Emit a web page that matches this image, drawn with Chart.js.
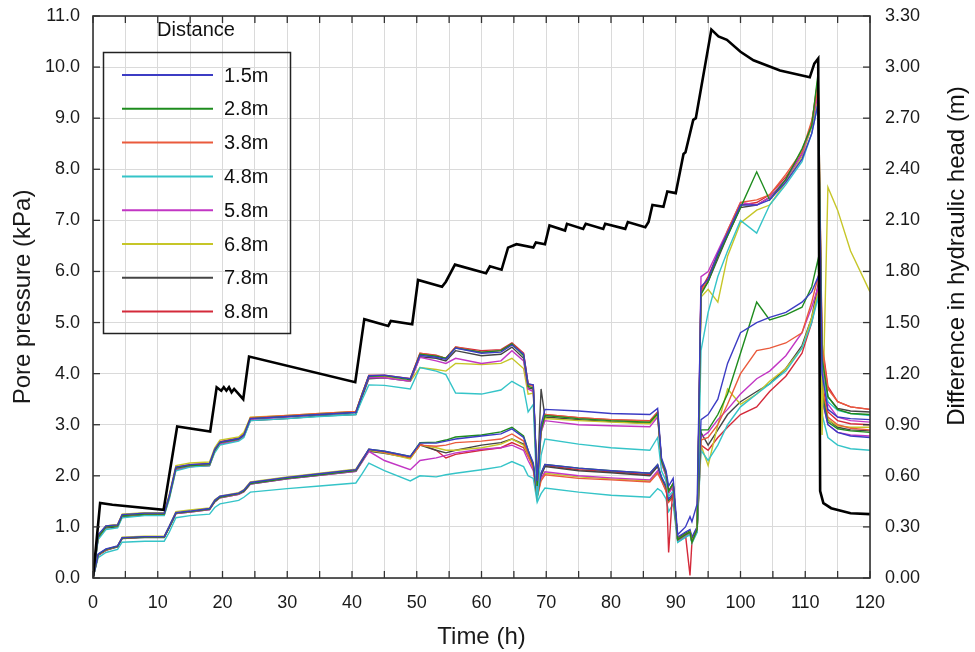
<!DOCTYPE html>
<html>
<head>
<meta charset="utf-8">
<script src="https://cdn.jsdelivr.net/npm/chart.js@4.4.1/dist/chart.umd.min.js"></script>
<style>
  body { margin: 0; background: #fff; }
  #wrap { width: 975px; height: 652px; position: relative; }
</style>
</head>
<body>
<div id="wrap"><canvas id="grafico"></canvas></div>
<script>
// Tiempo (h) comun para las curvas de presion de poros
const tiempo = [0, 0.8, 2, 3.8, 4.5, 8, 11, 11.8, 12.8, 15,
  18, 18.8, 19.6, 22.5, 23.3, 24.3, 30, 35, 40.6, 41.6,
  42.6, 45, 49, 50.5, 53, 54.5, 56, 60, 63, 64.7,
  66.5, 67.2, 68, 68.6, 69.2, 69.8, 75, 80, 86, 87.2,
  87.8, 88.5, 88.9, 89.6, 90.3, 91.5, 92.2, 92.5, 93.3, 93.9,
  95, 96.5, 98, 100, 102.5, 104.5, 107, 109.5, 111, 112,
  112.6, 113.5, 115, 117, 120];

const distancias = ['1.5m', '2.8m', '3.8m', '4.8m', '5.8m', '6.8m', '7.8m', '8.8m'];

// Grupo superior (kPa)
const sup15 = [0, 0.85, 1.02, 1.04, 1.24, 1.27, 1.27, 1.62, 2.17, 2.22,
  2.24, 2.52, 2.66, 2.73, 2.8, 3.12, 3.16, 3.2, 3.24, 3.6,
  3.96, 3.97, 3.9, 4.36, 4.32, 4.28, 4.5, 4.4, 4.42, 4.56,
  4.38, 3.8, 3.78, 1.9, 3.0, 3.3, 3.27, 3.22, 3.2, 3.32,
  2.35, 2.1, 1.8, 1.95, 0.85, 1.0, 1.2, 1.1, 1.45, 5.7,
  5.85, 6.35, 6.75, 7.3, 7.3, 7.4, 7.75, 8.2, 8.7, 9.3,
  4.0, 3.3, 3.15, 3.12, 3.1];
const sup28 = [0, 0.8, 1.0, 1.02, 1.22, 1.25, 1.25, 1.6, 2.15, 2.2,
  2.22, 2.5, 2.65, 2.72, 2.8, 3.12, 3.16, 3.2, 3.24, 3.6,
  3.95, 3.96, 3.88, 4.38, 4.34, 4.3, 4.5, 4.42, 4.45, 4.58,
  4.35, 3.75, 3.72, 1.8, 2.9, 3.18, 3.12, 3.08, 3.05, 3.22,
  2.3, 2.05, 1.7, 1.85, 0.75, 0.85, 0.9, 0.7, 0.95, 5.55,
  5.8, 6.3, 6.7, 7.25, 7.95, 7.4, 7.8, 8.4, 8.85, 9.9,
  4.3, 3.55, 3.3, 3.22, 3.2];
const sup38 = [0, 0.8, 1.0, 1.02, 1.22, 1.25, 1.25, 1.6, 2.15, 2.2,
  2.22, 2.5, 2.65, 2.72, 2.8, 3.14, 3.18, 3.22, 3.26, 3.62,
  3.97, 3.96, 3.9, 4.4, 4.35, 4.3, 4.52, 4.42, 4.45, 4.58,
  4.38, 3.78, 3.75, 1.8, 2.9, 3.2, 3.14, 3.1, 3.07, 3.24,
  2.3, 2.05, 1.7, 1.85, 0.75, 0.85, 0.9, 0.7, 0.95, 5.6,
  5.85, 6.3, 6.8, 7.35, 7.4, 7.5, 7.9, 8.35, 8.95, 9.6,
  4.5, 3.7, 3.45, 3.35, 3.3];
const sup48 = [0, 0.75, 0.95, 0.98, 1.18, 1.22, 1.22, 1.55, 2.1, 2.17,
  2.2, 2.45, 2.6, 2.68, 2.75, 3.08, 3.12, 3.16, 3.2, 3.5,
  3.78, 3.77, 3.7, 4.12, 4.05, 3.98, 3.62, 3.6, 3.68, 3.85,
  3.72, 3.25, 3.4, 1.5, 2.4, 2.72, 2.62, 2.55, 2.5, 2.75,
  2.1, 1.9, 1.6, 1.7, 0.7, 0.8, 0.85, 0.68, 0.9, 4.45,
  5.2, 5.9, 6.4, 7.0, 6.75, 7.3, 7.7, 8.15, 8.7, 9.3,
  4.0, 3.45, 3.28, 3.22, 3.18];
const sup58 = [0, 0.8, 1.0, 1.02, 1.22, 1.25, 1.25, 1.6, 2.12, 2.18,
  2.2, 2.48, 2.62, 2.7, 2.78, 3.1, 3.15, 3.2, 3.25, 3.6,
  3.92, 3.92, 3.85, 4.32, 4.25, 4.2, 4.3, 4.2, 4.25, 4.45,
  4.25, 3.7, 3.65, 1.7, 2.85, 3.08, 3.0, 2.98, 2.96, 3.15,
  2.25, 2.0, 1.65, 1.8, 0.72, 0.82, 0.88, 0.7, 0.92, 5.9,
  6.0, 6.4, 6.8, 7.35, 7.3, 7.45, 7.8, 8.3, 8.9, 9.5,
  4.1, 3.4, 3.15, 3.08, 3.05];
const sup68 = [0, 0.82, 1.02, 1.05, 1.25, 1.28, 1.28, 1.65, 2.2, 2.25,
  2.27, 2.55, 2.7, 2.76, 2.85, 3.15, 3.18, 3.22, 3.26, 3.62,
  3.95, 3.94, 3.85, 4.12, 4.08, 4.05, 4.2, 4.18, 4.2, 4.3,
  4.1, 3.6, 3.62, 1.75, 2.85, 3.12, 3.08, 3.05, 3.02, 3.18,
  2.25, 2.0, 1.68, 1.82, 0.74, 0.84, 0.9, 0.72, 0.93, 5.5,
  5.65, 5.4, 6.3, 6.95, 7.2, 7.3, 7.75, 8.25, 8.85, 9.4,
  2.8, 7.65, 7.2, 6.4, 5.6];
const sup78 = [0, 0.78, 0.98, 1.0, 1.2, 1.23, 1.23, 1.58, 2.12, 2.18,
  2.2, 2.48, 2.62, 2.7, 2.77, 3.08, 3.12, 3.17, 3.2, 3.55,
  3.9, 3.92, 3.85, 4.33, 4.3, 4.25, 4.45, 4.35, 4.38, 4.52,
  4.3, 3.72, 3.7, 1.85, 3.7, 3.15, 3.1, 3.06, 3.03, 3.2,
  2.28, 2.02, 1.7, 1.85, 0.75, 0.85, 0.9, 0.72, 0.95, 5.6,
  5.8, 6.25, 6.7, 7.25, 7.3, 7.45, 7.8, 8.3, 8.85, 9.45,
  4.3, 3.55, 3.32, 3.27, 3.25];
const sup88 = [0, 0.82, 1.02, 1.04, 1.24, 1.27, 1.27, 1.62, 2.17, 2.22,
  2.24, 2.52, 2.67, 2.74, 2.82, 3.13, 3.17, 3.21, 3.25, 3.62,
  3.96, 3.97, 3.9, 4.4, 4.36, 4.3, 4.52, 4.45, 4.47, 4.6,
  4.4, 3.8, 3.77, 1.75, 2.95, 3.2, 3.14, 3.1, 3.08, 3.25,
  2.3, 2.05, 0.5, 1.85, 0.75, 0.85, 0.05, 0.7, 0.95, 5.65,
  5.9, 6.35, 6.75, 7.3, 7.35, 7.5, 7.85, 8.3, 8.9, 9.8,
  4.6, 3.75, 3.45, 3.35, 3.3];

// Grupo inferior (kPa)
const inf15 = [0, 0.47, 0.57, 0.63, 0.79, 0.81, 0.81, 1.02, 1.28, 1.31,
  1.36, 1.52, 1.6, 1.66, 1.72, 1.87, 1.97, 2.04, 2.12, 2.32,
  2.52, 2.48, 2.38, 2.64, 2.64, 2.68, 2.72, 2.78, 2.82, 2.92,
  2.75, 2.5, 2.25, 1.65, 2.05, 2.22, 2.15, 2.1, 2.05, 2.22,
  1.98, 1.8, 1.55, 1.65, 0.8, 0.9, 0.95, 0.8, 1.0, 3.1,
  3.2, 3.5, 4.2, 4.8, 5.0, 5.1, 5.2, 5.4, 5.6, 5.9,
  3.5, 3.0, 2.85, 2.78, 2.75];
const inf28 = [0, 0.46, 0.56, 0.62, 0.78, 0.8, 0.8, 1.0, 1.27, 1.3,
  1.35, 1.5, 1.58, 1.65, 1.7, 1.85, 1.95, 2.02, 2.1, 2.3,
  2.52, 2.48, 2.38, 2.65, 2.66, 2.7, 2.76, 2.8, 2.86, 2.95,
  2.78, 2.5, 2.22, 1.6, 2.05, 2.22, 2.15, 2.1, 2.05, 2.22,
  1.96, 1.78, 1.52, 1.62, 0.78, 0.88, 0.92, 0.78, 0.98, 2.9,
  2.9, 3.2, 3.6, 4.4, 5.4, 5.05, 5.15, 5.3, 5.7, 6.25,
  3.6, 3.05, 2.92, 2.88, 2.85];
const inf38 = [0, 0.45, 0.55, 0.62, 0.78, 0.8, 0.8, 1.0, 1.27, 1.3,
  1.35, 1.5, 1.58, 1.65, 1.7, 1.86, 1.96, 2.03, 2.11, 2.32,
  2.52, 2.46, 2.36, 2.6, 2.58, 2.6, 2.65, 2.68, 2.72, 2.82,
  2.68, 2.42, 2.15, 1.58, 1.9, 2.02, 1.95, 1.92, 1.88, 2.05,
  1.9, 1.7, 1.48, 1.58, 0.74, 0.84, 0.88, 0.74, 0.94, 2.7,
  2.75, 3.0, 3.4, 4.0, 4.45, 4.5, 4.6, 4.8, 5.4, 5.9,
  3.7, 3.15, 3.0, 2.93, 2.9];
const inf48 = [0, 0.4, 0.5, 0.56, 0.7, 0.72, 0.72, 0.9, 1.18, 1.22,
  1.25, 1.38, 1.45, 1.52, 1.58, 1.68, 1.75, 1.8, 1.86, 2.05,
  2.25, 2.1, 1.9, 2.0, 1.98, 2.02, 2.05, 2.12, 2.18, 2.28,
  2.18, 2.0, 1.95, 1.48, 1.65, 1.76, 1.68, 1.62, 1.58, 1.75,
  1.7, 1.55, 1.3, 1.45, 0.7, 0.8, 0.85, 0.7, 0.9, 2.5,
  2.3, 2.6, 3.0, 3.35, 3.6, 3.8, 4.05, 4.5, 5.0, 5.5,
  3.2, 2.75, 2.6, 2.53, 2.5];
const inf58 = [0, 0.45, 0.55, 0.62, 0.78, 0.8, 0.8, 1.0, 1.26, 1.29,
  1.34, 1.49, 1.57, 1.64, 1.69, 1.84, 1.94, 2.01, 2.09, 2.28,
  2.48, 2.3, 2.12, 2.3, 2.35, 2.4, 2.45, 2.52, 2.55, 2.6,
  2.5, 2.3, 2.1, 1.6, 1.95, 2.08, 2.0, 1.96, 1.92, 2.1,
  1.92, 1.72, 1.5, 1.6, 0.76, 0.86, 0.9, 0.76, 0.96, 2.75,
  2.85, 3.1, 3.3, 3.6, 3.9, 4.05, 4.35, 4.8, 5.3, 5.7,
  3.5, 3.0, 2.85, 2.8, 2.78];
const inf68 = [0, 0.46, 0.56, 0.63, 0.8, 0.82, 0.82, 1.02, 1.3, 1.33,
  1.37, 1.53, 1.6, 1.67, 1.73, 1.88, 1.98, 2.05, 2.13, 2.33,
  2.5, 2.45, 2.33, 2.6, 2.55, 2.5, 2.5, 2.55, 2.62, 2.72,
  2.6, 2.4, 2.15, 1.58, 1.95, 2.05, 1.98, 1.94, 1.9, 2.08,
  1.92, 1.72, 1.5, 1.6, 0.75, 0.85, 0.9, 0.75, 0.95, 2.6,
  2.2, 3.0, 3.7, 3.4, 3.6, 3.85, 4.1, 4.5, 5.1, 5.6,
  3.7, 3.1, 2.98, 2.95, 2.95];
const inf78 = [0, 0.44, 0.54, 0.61, 0.77, 0.79, 0.79, 0.99, 1.26, 1.29,
  1.34, 1.49, 1.57, 1.64, 1.69, 1.84, 1.94, 2.01, 2.09, 2.29,
  2.48, 2.44, 2.35, 2.6, 2.5, 2.45, 2.5, 2.6, 2.65, 2.72,
  2.62, 2.42, 2.2, 1.65, 2.0, 2.18, 2.1, 2.06, 2.0, 2.18,
  1.94, 1.74, 1.5, 1.6, 0.75, 0.85, 0.9, 0.75, 0.95, 2.85,
  2.6, 2.9, 3.2, 3.45, 3.65, 3.8, 4.1, 4.55, 5.1, 5.75,
  3.6, 3.1, 2.95, 2.9, 2.88];
const inf88 = [0, 0.45, 0.55, 0.62, 0.78, 0.8, 0.8, 1.0, 1.27, 1.3,
  1.35, 1.5, 1.58, 1.65, 1.7, 1.85, 1.95, 2.02, 2.1, 2.3,
  2.5, 2.46, 2.37, 2.62, 2.5, 2.35, 2.42, 2.5, 2.55, 2.65,
  2.55, 2.38, 2.18, 1.62, 2.02, 2.2, 2.12, 2.08, 2.02, 2.2,
  1.95, 1.75, 1.5, 1.6, 0.75, 0.85, 0.9, 0.75, 0.95, 2.6,
  2.5, 2.75, 2.95, 3.2, 3.35, 3.65, 3.95, 4.4, 5.0, 5.6,
  3.8, 3.25, 3.08, 3.02, 3.0];

// Diferencia de carga hidraulica (m), eje derecho
const tiempoCarga = [0, 1.1, 3, 10.9, 13.0, 18.1, 19.1, 19.8, 20.2, 20.6,
  21.0, 21.4, 21.8, 23.2, 24.1, 40.5, 41.9, 45.6, 46.0, 49.3,
  50.2, 53.9, 54.5, 55.9, 60.7, 61.3, 63.1, 64.1, 65.4, 68.0,
  68.4, 69.8, 70.5, 72.9, 73.2, 75.7, 76.1, 78.8, 79.1, 82.2,
  82.6, 85.3, 85.8, 86.4, 88.1, 88.7, 90.0, 91.2, 91.5, 92.7,
  93.1, 95.5, 96.6, 97.9, 100, 102.0, 106.1, 110.7, 111.4, 112.0,
  112.3, 112.8, 114, 117, 120];
const carga = [0, 0.44, 0.43, 0.40, 0.89, 0.86, 1.12, 1.10, 1.12, 1.10,
  1.12, 1.09, 1.11, 1.05, 1.30, 1.15, 1.52, 1.48, 1.51, 1.49,
  1.75, 1.71, 1.74, 1.84, 1.79, 1.83, 1.81, 1.94, 1.96, 1.94,
  1.97, 1.96, 2.07, 2.04, 2.08, 2.05, 2.08, 2.05, 2.08, 2.05,
  2.09, 2.06, 2.09, 2.19, 2.18, 2.27, 2.26, 2.49, 2.50, 2.69,
  2.70, 3.22, 3.18, 3.16, 3.09, 3.04, 2.98, 2.94, 3.02, 3.05,
  0.51, 0.44, 0.41, 0.38, 0.375];

const colores = ['#3c3cc4', '#1e8c1e', '#ea5a3c', '#35c4c8', '#c236c4', '#c6c628', '#444444', '#d42a3a'];
const superiores = [sup15, sup28, sup38, sup48, sup58, sup68, sup78, sup88];
const inferiores = [inf15, inf28, inf38, inf48, inf58, inf68, inf78, inf88];

const fuente = 'Liberation Sans, Arial, sans-serif';
const aPuntos = arr => arr.map((v, i) => ({ x: tiempo[i], y: v }));

const datasets = [{
  label: 'Carga',
  data: tiempoCarga.map((t, i) => ({ x: t, y: carga[i] })),
  yAxisID: 'y1',
  borderColor: '#000',
  borderWidth: 2.6,
  pointRadius: 0,
  enLeyenda: false
}];
superiores.forEach((arr, i) => datasets.push({
  label: distancias[i], data: aPuntos(arr), yAxisID: 'y',
  borderColor: colores[i], borderWidth: 1.4, pointRadius: 0, enLeyenda: true
}));
inferiores.forEach((arr, i) => datasets.push({
  label: distancias[i], data: aPuntos(arr), yAxisID: 'y',
  borderColor: colores[i], borderWidth: 1.4, pointRadius: 0, enLeyenda: false
}));

// Marco, marcas hacia dentro, leyenda y titulo del eje derecho
const marco = {
  id: 'marco',
  afterDraw(chart) {
    const { ctx, chartArea: a, scales } = chart;
    const linea = (x1, y1, x2, y2) => { ctx.beginPath(); ctx.moveTo(x1, y1); ctx.lineTo(x2, y2); ctx.stroke(); };
    ctx.save();
    ctx.strokeStyle = '#333';
    ctx.lineWidth = 1.3;
    scales.x.ticks.forEach(t => {
      const px = scales.x.getPixelForValue(t.value);
      linea(px, a.bottom, px, a.bottom - 7);
      linea(px, a.top, px, a.top + 7);
    });
    scales.y.ticks.forEach(t => {
      const py = scales.y.getPixelForValue(t.value);
      linea(a.left, py, a.left + 7, py);
    });
    scales.y1.ticks.forEach(t => {
      const py = scales.y1.getPixelForValue(t.value);
      linea(a.right, py, a.right - 7, py);
    });
    ctx.lineWidth = 1.6;
    ctx.strokeRect(a.left, a.top, a.right - a.left, a.bottom - a.top);

    // leyenda
    ctx.lineWidth = 1.5;
    ctx.strokeStyle = '#222';
    ctx.strokeRect(103.5, 52.5, 187, 281);
    ctx.fillStyle = '#111';
    ctx.font = '20px ' + fuente;
    ctx.textBaseline = 'middle';
    ctx.textAlign = 'center';
    ctx.fillText('Distance', 196, 30);
    ctx.textAlign = 'left';
    chart.data.datasets.filter(d => d.enLeyenda).forEach((d, i) => {
      const yy = 75 + i * 33.8;
      ctx.strokeStyle = d.borderColor;
      ctx.lineWidth = 2;
      linea(122, yy, 213, yy);
      ctx.fillText(d.label, 224, yy + 1);
    });

    // titulo del eje derecho
    ctx.translate(957, 256);
    ctx.rotate(-Math.PI / 2);
    ctx.textAlign = 'center';
    ctx.font = '24px ' + fuente;
    ctx.fillText('Difference in hydraulic head (m)', 0, 0);
    ctx.restore();
  }
};

const ajusteVertical = ancho => s => {
  s.width = ancho;
  s.paddingTop = 16;
  s.paddingBottom = 0;
};

const ctx = document.getElementById('grafico').getContext('2d');
new Chart(ctx, {
  type: 'line',
  data: { datasets },
  options: {
    responsive: true,
    maintainAspectRatio: false,
    animation: false,
    layout: { padding: 0 },
    elements: { line: { tension: 0 } },
    plugins: { legend: { display: false }, tooltip: { enabled: false } },
    scales: {
      x: {
        type: 'linear', min: 0, max: 120,
        ticks: {
          stepSize: 5, autoSkip: false, maxRotation: 0, padding: 14,
          color: '#1a1a1a', font: { family: fuente, size: 18 },
          callback: v => (v % 10 === 0 ? String(v) : '')
        },
        grid: { color: '#dadada', lineWidth: 1, drawTicks: false },
        border: { display: false },
        title: { display: true, text: 'Time (h)', color: '#1a1a1a', font: { family: fuente, size: 24 }, padding: { top: 0, bottom: 0 } },
        afterFit: s => { s.height = 74; s.paddingLeft = 0; s.paddingRight = 0; }
      },
      y: {
        position: 'left', min: 0, max: 11,
        ticks: {
          stepSize: 1, padding: 13, color: '#1a1a1a', font: { family: fuente, size: 18 },
          callback: v => v.toFixed(1)
        },
        grid: { color: '#dadada', lineWidth: 1, drawTicks: false },
        border: { display: false },
        title: { display: true, text: 'Pore pressure (kPa)', color: '#1a1a1a', font: { family: fuente, size: 24 }, padding: { top: 9, bottom: 0 } },
        afterFit: ajusteVertical(93)
      },
      y1: {
        position: 'right', min: 0, max: 3.3,
        ticks: {
          stepSize: 0.3, padding: 15, color: '#1a1a1a', font: { family: fuente, size: 18 },
          callback: v => v.toFixed(2)
        },
        grid: { drawOnChartArea: false, drawTicks: false },
        border: { display: false },
        afterFit: ajusteVertical(105)
      }
    }
  },
  plugins: [marco]
});
</script>
</body>
</html>
